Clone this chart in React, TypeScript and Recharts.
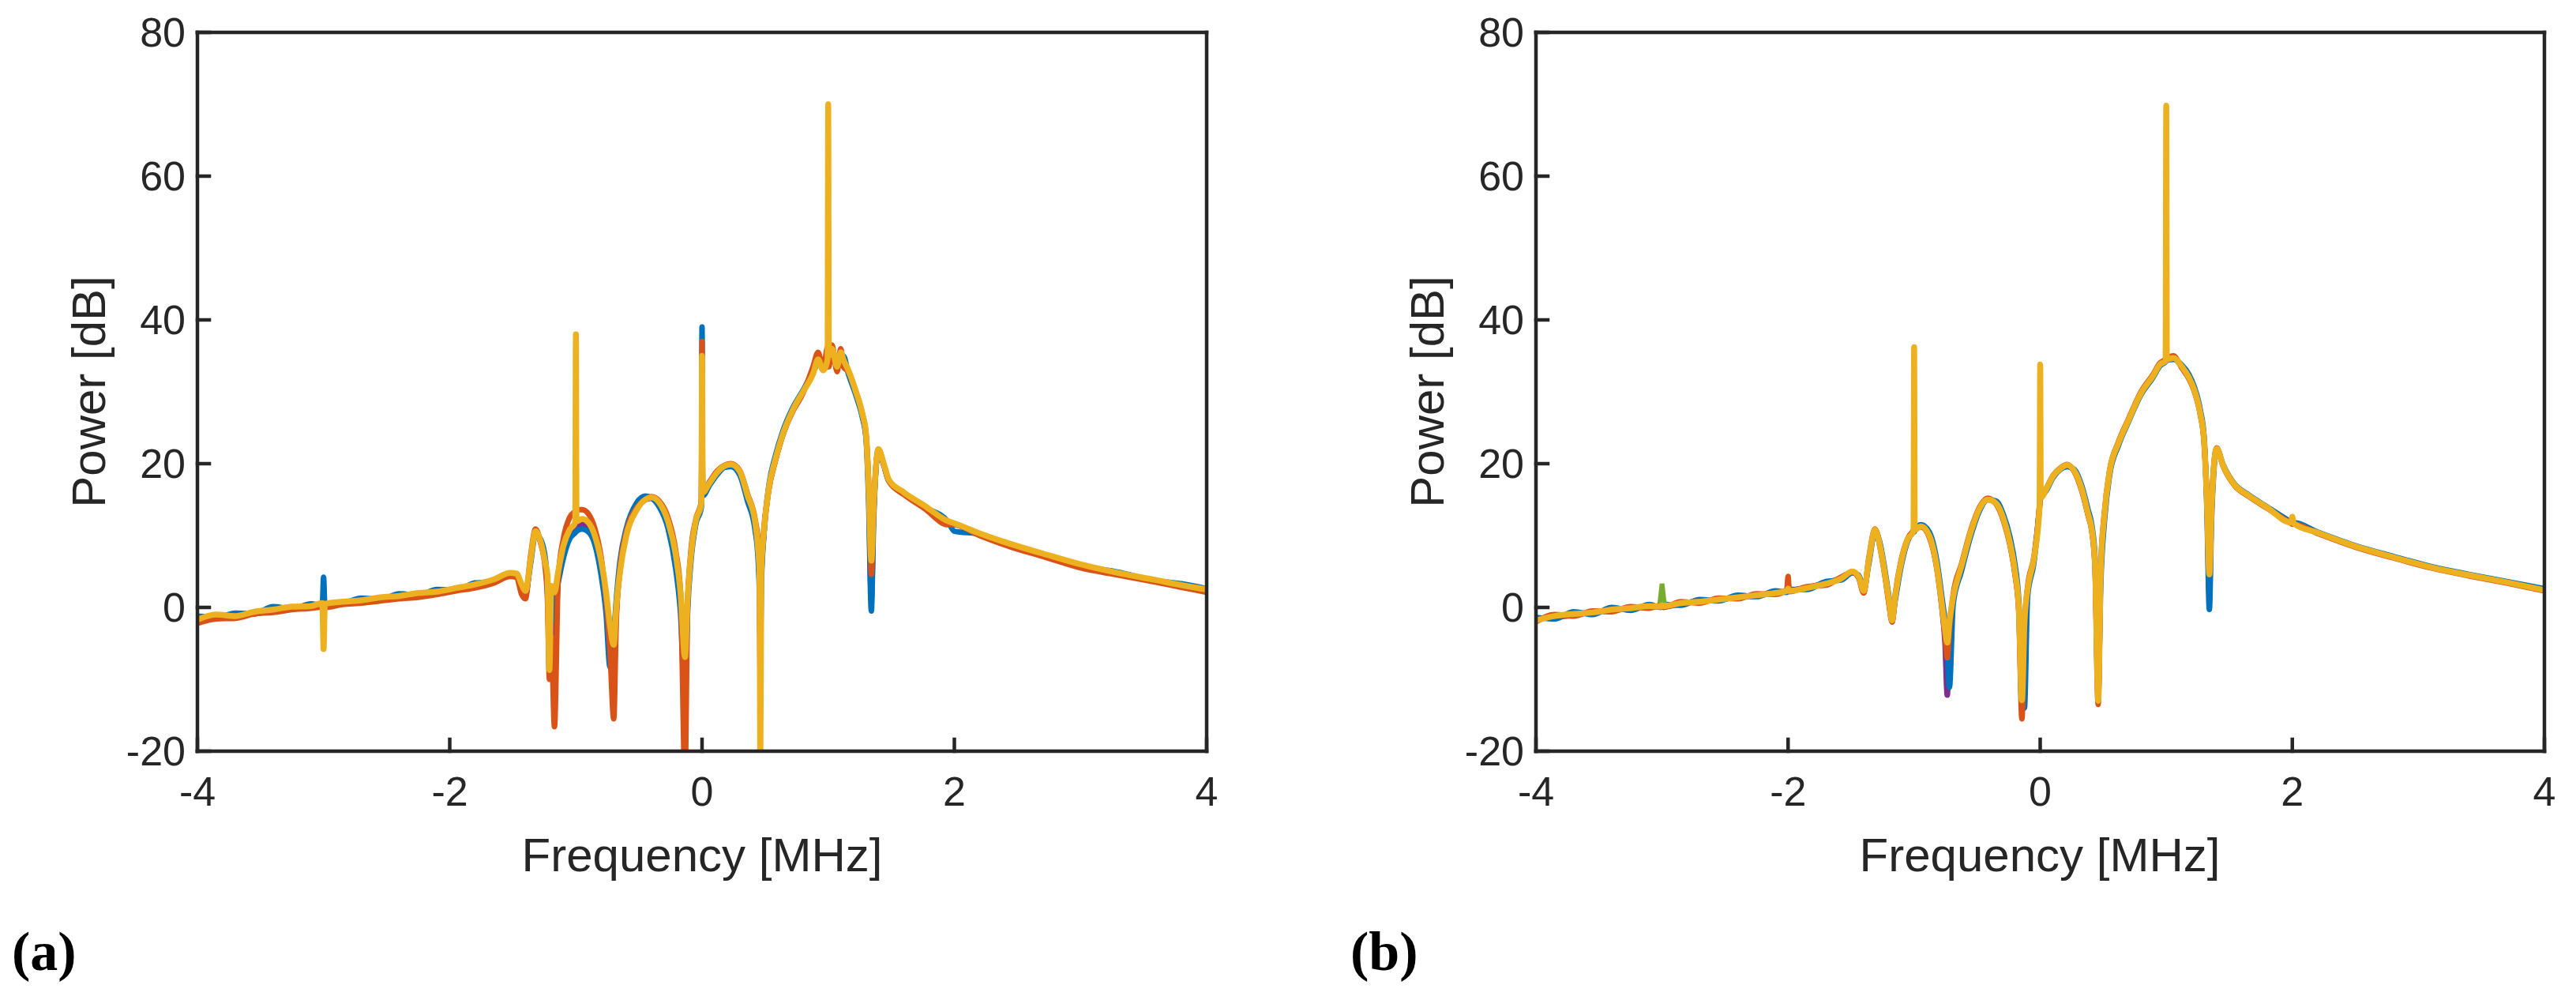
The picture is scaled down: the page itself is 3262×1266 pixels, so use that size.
import { LineChart, Line, XAxis, YAxis } from "recharts";

const FONT = '"Liberation Sans", Arial, Helvetica, sans-serif';
const INK = "#262626";

const xTicks = [-4, -2, 0, 2, 4];
const yTicks = [-20, 0, 20, 40, 60, 80];

// panel (a): frequency grid in MHz, power in dB per trace
const freqA = [
  -4.0, -3.85, -3.7, -3.55, -3.4, -3.25, -3.1, -3.01, -3.0, -2.99,
  -2.85, -2.7, -2.55, -2.4, -2.25, -2.1, -1.95, -1.8, -1.65, -1.52,
  -1.47, -1.43, -1.4, -1.36, -1.32, -1.28, -1.24, -1.225, -1.21, -1.195,
  -1.17, -1.14, -1.1, -1.05, -1.005, -1.0, -0.995, -0.95, -0.9, -0.85,
  -0.8, -0.76, -0.73, -0.7, -0.68, -0.65, -0.6, -0.52, -0.45, -0.4,
  -0.34, -0.27, -0.21, -0.17, -0.135, -0.115, -0.09, -0.05, -0.005, 0.0,
  0.005, 0.06, 0.12, 0.18, 0.23, 0.3, 0.36, 0.42, 0.445, 0.455,
  0.462, 0.47, 0.49, 0.53, 0.58, 0.64, 0.72, 0.8, 0.88, 0.92,
  0.96, 0.995, 1.0, 1.005, 1.03, 1.07, 1.1, 1.12, 1.16, 1.22,
  1.27, 1.3, 1.32, 1.342, 1.36, 1.398, 1.44, 1.48, 1.6, 1.76,
  1.95, 2.0, 2.2, 2.45, 2.7, 3.0, 3.3, 3.6, 3.8, 4.0,
];

const yellowA = [
  -1.7, -1.0, -1.2, -0.6, -0.3, 0.1, 0.2, 0.6, -5.8, 0.5,
  0.8, 1.0, 1.4, 1.6, 2.0, 2.2, 2.7, 3.2, 3.9, 4.8,
  4.7, 3.2, 2.3, 6.5, 10.6, 9.2, 6.0, 4.5, -8.7, 3.0,
  2.1, 5.0, 8.5, 10.8, 11.8, 38, 12.0, 12.3, 11.8, 10.0,
  6.5, 2.0, -2.5, -5.2, 0.0, 5.0, 10.0, 13.5, 15.0, 15.3,
  14.6, 12.0, 7.5, 2.0, -6.9, 1.0, 7.0, 12.0, 14.5, 35,
  16.0, 17.3, 18.8, 19.7, 19.9, 18.9, 15.6, 12.0, 8.0, 5.0,
  -22, 5.0, 10.5, 16.7, 20.5, 24.1, 27.5, 30.0, 32.5, 34.5,
  33.0, 34.5, 70, 35.0, 36.0, 33.5, 35.5, 34.5, 33.0, 30.0,
  27.0, 24.1, 17.0, 6.5, 14.0, 22.0, 20.0, 17.8, 16.0, 14.2,
  12.0, 11.7, 10.3, 8.8, 7.5, 6.0, 4.8, 3.8, 3.1, 2.5,
];

const blueA = [
  -1.2, -1.4, -0.8, -0.9, 0.1, -0.2, 0.5, 0.3, 4.2, 0.2,
  0.5, 1.3, 1.1, 1.9, 1.7, 2.5, 2.4, 3.4, 3.6, 4.6,
  4.4, 2.8, 2.0, 6.0, 10.2, 9.5, 6.5, 3.0, 0.0, -2.0,
  1.0, 3.5, 6.8, 9.5, 10.4, 10.5, 10.6, 10.9, 10.5, 8.8,
  4.5, -1.0, -8.3, -4.0, 1.0, 6.5, 11.0, 14.5, 15.5, 15.2,
  14.0, 11.0, 5.5, -1.0, -13.6, -1.0, 6.0, 11.5, 14.0, 39,
  15.5, 17.0, 18.5, 19.5, 19.6, 18.4, 14.8, 10.8, 6.5, 2.0,
  -5.0, 3.0, 10.0, 17.0, 21.0, 24.5, 27.8, 30.2, 32.8, 34.0,
  34.5, 33.5, 35.0, 34.0, 35.5, 34.5, 34.0, 35.0, 32.5, 29.5,
  26.5, 23.5, 15.0, -0.5, 12.0, 21.8, 19.8, 17.6, 15.8, 14.0,
  11.9, 10.6, 10.2, 8.6, 7.4, 5.8, 4.9, 3.7, 3.3, 2.6,
];

const orangeA = [
  -2.2, -1.6, -1.5, -0.9, -0.7, -0.3, -0.1, 0.1, 0.2, 0.0,
  0.4, 0.6, 0.9, 1.2, 1.4, 1.8, 2.3, 2.7, 3.4, 4.3,
  4.2, 1.8, 1.2, 7.0, 10.9, 9.0, 5.0, 1.0, -10.0, -4.0,
  -16.6, 4.0, 9.5, 12.5, 13.4, 13.5, 13.6, 13.6, 13.0, 11.0,
  7.0, 1.0, -6.0, -15.5, -2.0, 5.5, 10.5, 13.8, 15.0, 15.4,
  14.8, 12.5, 8.0, 2.0, -24, 0.0, 7.5, 12.2, 14.8, 37,
  16.0, 17.5, 19.0, 19.8, 20.0, 19.0, 15.8, 12.3, 9.0, 6.0,
  6.0, 6.5, 11.0, 16.5, 20.3, 24.0, 27.3, 29.8, 33.5, 35.5,
  33.0, 36.2, 36.0, 33.5, 36.5, 32.8, 36.0, 33.5, 32.8, 30.0,
  27.0, 24.0, 17.5, 4.6, 13.5, 22.0, 19.9, 17.6, 15.7, 13.8,
  11.5, 11.5, 10.0, 8.4, 7.1, 5.5, 4.5, 3.5, 2.8, 2.1,
];

const purpleA = [
  -1.9, -1.3, -1.0, -0.8, -0.4, -0.1, 0.0, 0.4, 0.3, 0.3,
  0.6, 0.9, 1.2, 1.5, 1.8, 2.0, 2.5, 3.0, 3.6, 4.5,
  4.5, 2.5, 1.8, 6.4, 10.5, 9.1, 5.8, 2.0, -6.0, 0.0,
  -5.0, 3.8, 7.8, 10.4, 11.2, 11.4, 11.5, 11.6, 11.0, 9.0,
  5.5, 0.5, -7.0, -10.0, -1.0, 5.2, 10.2, 13.6, 15.0, 15.2,
  14.4, 11.6, 7.0, 1.0, -10.0, 0.5, 6.8, 11.8, 14.3, 30,
  15.8, 17.2, 18.6, 19.6, 19.8, 18.8, 15.4, 11.8, 7.6, 3.0,
  -10.6, 4.0, 10.2, 16.5, 20.4, 24.0, 27.5, 30.0, 32.8, 34.2,
  34.0, 34.8, 35.0, 34.6, 35.2, 34.0, 34.8, 34.2, 32.8, 29.8,
  26.8, 23.8, 16.5, 1.0, 13.0, 21.8, 19.9, 17.7, 15.9, 14.1,
  11.8, 11.6, 10.1, 8.7, 7.3, 5.9, 4.7, 3.7, 3.0, 2.3,
];

// panel (b)
const freqB = [
  -4.0, -3.85, -3.7, -3.55, -3.4, -3.25, -3.1, -3.01, -3.0, -2.99,
  -2.85, -2.7, -2.55, -2.4, -2.25, -2.1, -2.01, -2.0, -1.99, -1.85,
  -1.7, -1.58, -1.49, -1.44, -1.4, -1.36, -1.31, -1.27, -1.23, -1.2,
  -1.175, -1.15, -1.1, -1.05, -1.005, -1.0, -0.995, -0.945, -0.88, -0.82,
  -0.78, -0.755, -0.737, -0.72, -0.69, -0.625, -0.55, -0.48, -0.417, -0.35,
  -0.29, -0.24, -0.2, -0.17, -0.145, -0.125, -0.1, -0.05, -0.005, 0.0,
  0.005, 0.05, 0.1, 0.16, 0.214, 0.27, 0.33, 0.38, 0.41, 0.435,
  0.46, 0.48, 0.51, 0.55, 0.62, 0.7, 0.8, 0.895, 0.95, 0.995,
  1.0, 1.005, 1.057, 1.12, 1.18, 1.22, 1.27, 1.3, 1.322, 1.342,
  1.36, 1.4, 1.45, 1.54, 1.65, 1.8, 1.99, 2.0, 2.01, 2.2,
  2.5, 2.8, 3.1, 3.4, 3.7, 4.0,
];

const yellowB = [
  -1.8, -1.2, -0.9, -0.7, -0.3, -0.1, 0.2, 0.1, 0.3, 0.2,
  0.6, 0.8, 1.1, 1.4, 1.7, 2.0, 2.3, 2.6, 2.3, 2.7,
  3.3, 4.0, 5.0, 4.3, 2.3, 6.5, 10.8, 8.5, 4.5, 1.0,
  -1.8, 1.5, 6.5, 9.5, 10.6, 36.2, 10.8, 11.3, 10.0, 5.7,
  0.5, -3.0, -4.9, -2.0, 1.5, 5.7, 10.5, 13.8, 15.0, 14.5,
  12.3, 9.0, 5.0, 0.0, -12.9, -2.0, 2.5, 6.8, 14.0, 33.8,
  15.3, 16.5, 18.2, 19.3, 19.8, 19.0, 16.5, 13.0, 10.8, 6.0,
  -13.0, 5.0, 13.0, 18.8, 22.8, 26.0, 29.8, 32.2, 33.8, 34.3,
  69.8, 34.5, 34.7, 33.6, 32.0, 30.4, 27.0, 23.3, 15.0, 4.6,
  14.0, 22.1, 19.8, 17.1, 15.6, 13.9, 11.8, 12.6, 11.7, 10.4,
  8.5, 7.0, 5.6, 4.5, 3.5, 2.4,
];

const blueB = [
  -1.4, -1.6, -0.6, -1.0, 0.0, -0.4, 0.4, 0.0, 0.2, 0.4,
  0.3, 1.1, 0.9, 1.7, 1.5, 2.3, 2.1, 2.4, 2.5, 2.5,
  3.6, 3.8, 4.8, 4.5, 2.6, 6.0, 10.6, 8.9, 5.0, 1.5,
  -1.5, 1.0, 6.0, 9.3, 10.5, 10.5, 10.7, 11.5, 10.5, 6.5,
  1.5, -2.0, -6.0, -11.1, 0.5, 5.0, 10.0, 13.5, 15.0, 14.8,
  12.8, 9.8, 6.0, 1.0, -10.0, -14.0, 1.5, 6.2, 14.0, 15.0,
  15.2, 16.3, 18.0, 19.2, 19.6, 19.2, 16.9, 13.6, 11.4, 7.0,
  -12.0, 3.0, 12.0, 18.3, 22.5, 25.8, 29.6, 32.0, 33.6, 34.2,
  34.3, 34.4, 34.5, 33.8, 32.4, 30.8, 27.5, 23.8, 14.0, -0.3,
  12.5, 22.0, 19.9, 17.2, 15.7, 14.0, 11.9, 11.8, 11.8, 10.5,
  8.6, 7.1, 5.7, 4.6, 3.6, 2.6,
];

const orangeB = [
  -2.0, -1.0, -1.2, -0.5, -0.6, 0.1, -0.1, 0.3, 0.1, 0.0,
  0.8, 0.6, 1.3, 1.2, 1.9, 1.8, 2.5, 4.3, 2.2, 2.9,
  3.1, 4.2, 4.9, 4.1, 2.0, 6.8, 10.9, 8.3, 4.2, 0.5,
  -2.0, 1.8, 6.8, 9.6, 10.7, 10.8, 10.9, 11.2, 9.8, 5.4,
  0.0, -4.0, -7.0, -3.0, 1.8, 6.0, 10.8, 14.0, 15.2, 14.4,
  12.0, 8.7, 4.6, -0.5, -15.5, -3.0, 2.8, 7.0, 14.2, 15.5,
  15.4, 16.6, 18.3, 19.4, 19.9, 18.9, 16.2, 12.8, 10.5, 5.5,
  -13.5, 5.5, 13.3, 19.0, 23.0, 26.2, 30.0, 32.4, 34.0, 34.6,
  34.8, 34.8, 35.0, 33.4, 31.8, 30.2, 26.8, 23.0, 15.5, 5.0,
  14.5, 22.2, 19.7, 17.0, 15.5, 13.8, 11.7, 11.6, 11.6, 10.3,
  8.4, 6.9, 5.5, 4.4, 3.4, 2.3,
];

const purpleB = [
  -1.6, -1.3, -1.1, -0.6, -0.4, 0.0, 0.1, 0.2, 0.4, 0.1,
  0.5, 0.9, 1.0, 1.5, 1.6, 2.1, 2.2, 2.5, 2.4, 2.8,
  3.4, 4.1, 4.9, 4.2, 2.2, 6.4, 10.7, 8.6, 4.4, 0.8,
  -2.0, 1.3, 6.3, 9.4, 10.5, 10.6, 10.7, 11.2, 9.9, 5.6,
  0.2, -5.0, -12.2, -3.5, 1.2, 5.5, 10.4, 13.7, 15.0, 14.5,
  12.2, 8.9, 4.8, -0.2, -13.5, -2.5, 2.2, 6.6, 14.0, 15.2,
  15.3, 16.5, 18.2, 19.3, 19.8, 19.0, 16.4, 12.9, 10.7, 5.8,
  -12.5, 4.6, 12.8, 18.7, 22.7, 26.0, 29.8, 32.2, 33.8, 34.3,
  34.5, 34.5, 34.7, 33.6, 32.0, 30.4, 27.0, 23.2, 15.0, 2.0,
  13.8, 22.1, 19.8, 17.1, 15.6, 13.9, 11.8, 11.7, 11.7, 10.4,
  8.5, 7.0, 5.6, 4.5, 3.5, 2.4,
];

// small green spike near -3 MHz in panel (b)
const greenSpikeB = [
  { f: -3.02, green: 0.1 },
  { f: -3.0, green: 3.3 },
  { f: -2.98, green: 0.3 },
];

const SERIES = [
  { key: "purple", color: "#7E2F8E", width: 7 },
  { key: "blue", color: "#0072BD", width: 7 },
  { key: "orange", color: "#D95319", width: 7 },
  { key: "yellow", color: "#EDB120", width: 7.5 },
];

function buildRows(freq: number[], traces: Record<string, number[]>) {
  return freq.map((f, i) => {
    const row: Record<string, number> = { f };
    for (const k of Object.keys(traces)) row[k] = traces[k][i];
    return row;
  });
}

const rowsA = buildRows(freqA, { yellow: yellowA, blue: blueA, orange: orangeA, purple: purpleA });
const rowsB = buildRows(freqB, { yellow: yellowB, blue: blueB, orange: orangeB, purple: purpleB });

const axisStroke = { stroke: INK, strokeWidth: 4.5, strokeLinecap: "square" as const };
const tickText = { fill: INK, fontSize: 52, fontFamily: FONT };

type PanelProps = {
  rows: Record<string, number>[];
  width: number;
  margin: { top: number; right: number; bottom: number; left: number };
  extra?: { f: number; green: number }[];
};

function SpectrumPanel({ rows, width, margin, extra }: PanelProps) {
  const yellow = SERIES[SERIES.length - 1];
  return (
    <LineChart width={width} height={1266} data={rows} margin={margin}>
      <XAxis
        xAxisId="b"
        dataKey="f"
        type="number"
        domain={[-4, 4]}
        ticks={xTicks}
        interval={0}
        height={100}
        tickSize={-15}
        tickMargin={47}
        axisLine={axisStroke}
        tickLine={axisStroke}
        tick={tickText}
        allowDataOverflow
      />
      <XAxis
        xAxisId="t"
        orientation="top"
        dataKey="f"
        type="number"
        domain={[-4, 4]}
        ticks={xTicks}
        interval={0}
        height={1}
        tickSize={-15}
        axisLine={axisStroke}
        tickLine={axisStroke}
        tick={false}
        allowDataOverflow
      />
      <YAxis
        yAxisId="l"
        type="number"
        domain={[-20, 80]}
        ticks={yTicks}
        interval={0}
        width={240}
        tickSize={-15}
        tickMargin={30}
        axisLine={axisStroke}
        tickLine={axisStroke}
        tick={tickText}
        allowDataOverflow
      />
      <YAxis
        yAxisId="r"
        orientation="right"
        type="number"
        domain={[-20, 80]}
        ticks={yTicks}
        interval={0}
        width={1}
        tickSize={-15}
        axisLine={axisStroke}
        tickLine={axisStroke}
        tick={false}
        allowDataOverflow
      />
      {SERIES.slice(0, -1).map((s) => (
        <Line
          key={s.key}
          xAxisId="b"
          yAxisId="l"
          type="monotone"
          dataKey={s.key}
          stroke={s.color}
          strokeWidth={s.width}
          strokeLinejoin="round"
          dot={false}
          activeDot={false}
          isAnimationActive={false}
        />
      ))}
      {extra && (
        <Line
          xAxisId="b"
          yAxisId="l"
          type="linear"
          data={extra}
          dataKey="green"
          stroke="#77AC30"
          strokeWidth={6}
          dot={false}
          activeDot={false}
          isAnimationActive={false}
        />
      )}
      <Line
        xAxisId="b"
        yAxisId="l"
        type="monotone"
        dataKey={yellow.key}
        stroke={yellow.color}
        strokeWidth={yellow.width}
        strokeLinejoin="round"
        dot={false}
        activeDot={false}
        isAnimationActive={false}
      />
    </LineChart>
  );
}

export default function App() {
  return (
    <div
      style={{
        position: "absolute",
        left: 0,
        top: 0,
        width: 3262,
        height: 1266,
        background: "#fff",
        fontFamily: FONT,
      }}
    >
      <div style={{ position: "absolute", left: 0, top: 0 }}>
        <SpectrumPanel rows={rowsA} width={1600} margin={{ top: 40, right: 71, bottom: 215, left: 10 }} />
      </div>
      <div style={{ position: "absolute", left: 1600, top: 0 }}>
        <SpectrumPanel
          rows={rowsB}
          width={1662}
          margin={{ top: 40, right: 39, bottom: 215, left: 105 }}
          extra={greenSpikeB}
        />
      </div>
      <svg
        width={3262}
        height={1266}
        style={{ position: "absolute", left: 0, top: 0, pointerEvents: "none" }}
      >
        <g fill={INK} fontFamily={FONT} fontSize={60}>
          <text x={889} y={1103} textAnchor="middle">Frequency [MHz]</text>
          <text x={2583} y={1103} textAnchor="middle">Frequency [MHz]</text>
          <text transform="translate(133 496) rotate(-90)" textAnchor="middle">Power [dB]</text>
          <text transform="translate(1828 496) rotate(-90)" textAnchor="middle">Power [dB]</text>
        </g>
        <g fill="#000" fontFamily='"Liberation Serif", "Times New Roman", serif' fontWeight="bold" fontSize={70}>
          <text x={15} y={1228}>(a)</text>
          <text x={1710} y={1228}>(b)</text>
        </g>
      </svg>
    </div>
  );
}
